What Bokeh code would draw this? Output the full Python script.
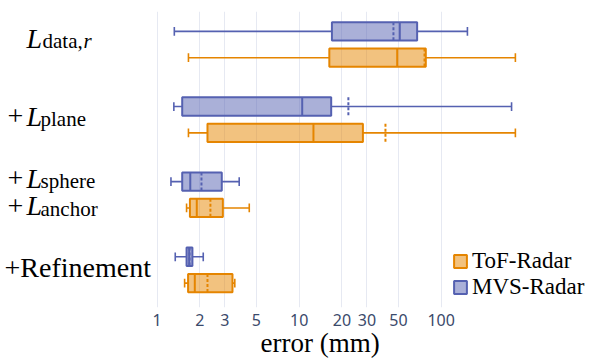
from bokeh.plotting import figure
from bokeh.models import (Range1d, FixedTicker, PrintfTickFormatter, Label,
                          Legend, LegendItem, ColumnDataSource, Title)
from bokeh.embed import file_html
from bokeh.resources import INLINE

# ---------------- data ----------------
series_names = ["ToF-Radar", "MVS-Radar"]
group_index = [0, 1, 2, 3]          # L_data,r ; +L_plane ; +L_sphere/+L_anchor ; +Refinement

mvs_low = [1.32, 1.31, 1.25, 1.34]
mvs_q1 = [17.0, 1.50, 1.50, 1.61]
mvs_med = [51.1, 10.5, 1.71, 1.68]
mvs_q3 = [67.7, 16.8, 2.85, 1.77]
mvs_high = [153.0, 313.0, 3.78, 2.11]
mvs_mean = [46.1, 22.2, 2.05, 1.69]

tof_low = [1.66, 1.66, 1.61, 1.56]
tof_q1 = [16.3, 2.26, 1.70, 1.65]
tof_med = [49.0, 12.6, 1.90, 1.84]
tof_q3 = [77.9, 28.1, 2.90, 3.39]
tof_high = [333.0, 333.0, 4.45, 3.52]
tof_mean = [76.3, 40.5, 2.37, 2.26]

x_ticks = [1, 2, 3, 5, 10, 20, 30, 50, 100]
x_label = "error (mm)"

# y tick labels: (position, prefix, main, subscript, italic subscript tail, baseline px, sub x)
ylabels = [
    (0.0, "", "L", "data,", "r", -6.5, 42),
    (1.0, "+", "L", "plane", "", -3.2, 40),
    (1.825, "+", "L", "sphere", "", -3.3, 40),
    (2.175, "+", "L", "anchor", "", -2.0, 40),
    (3.0, "+Refinement", "", "", "", -2.3, 0),
]

# ---------------- styling ----------------
MVS_C = "#5561b1"
TOF_C = "#e58500"
ROW_OFF = 0.175
BOX_H = 0.244
CAP_H = 0.058
SERIF = "Liberation Serif"


def make_source(low, q1, med, q3, high, mean, off):
    ys = [g + off for g in group_index]
    return ColumnDataSource(dict(
        y=ys, low=low, q1=q1, med=med, q3=q3, high=high, mean=mean,
        cap0=[y - CAP_H for y in ys], cap1=[y + CAP_H for y in ys],
        box0=[y - BOX_H / 2 for y in ys], box1=[y + BOX_H / 2 for y in ys],
    ))


p = figure(width=597, height=360, x_axis_type="log",
           x_range=Range1d(0.0788, 1261), y_range=Range1d(3.5, -0.44),
           output_backend="svg", toolbar_location=None, y_axis_location=None,
           min_border_left=0, min_border_right=0, min_border_top=11,
           min_border_bottom=53)
p.outline_line_color = None
p.background_fill_color = "white"
p.border_fill_color = "white"
p.ygrid.visible = False
p.xgrid.ticker = FixedTicker(ticks=x_ticks)
p.xgrid.grid_line_color = "#e6e9f2"
p.xgrid.grid_line_width = 1

ax = p.xaxis[0]
ax.ticker = FixedTicker(ticks=x_ticks, minor_ticks=[])
ax.formatter = PrintfTickFormatter(format="%d")
ax.axis_line_color = None
ax.major_tick_line_color = None
ax.minor_tick_line_color = None
ax.major_tick_out = 0
ax.major_tick_in = 0
ax.major_label_text_font = "Noto Sans"
ax.major_label_text_font_size = "16px"
ax.major_label_text_color = "#3b4a6b"
ax.major_label_standoff = 6

renderers = {}
for name, col, vals, off in [
        ("MVS-Radar", MVS_C, (mvs_low, mvs_q1, mvs_med, mvs_q3, mvs_high, mvs_mean), -ROW_OFF),
        ("ToF-Radar", TOF_C, (tof_low, tof_q1, tof_med, tof_q3, tof_high, tof_mean), ROW_OFF)]:
    src = make_source(*vals, off)
    p.segment(x0="low", y0="y", x1="q1", y1="y", source=src, line_color=col, line_width=1.6)
    p.segment(x0="q3", y0="y", x1="high", y1="y", source=src, line_color=col, line_width=1.6)
    p.segment(x0="low", y0="cap0", x1="low", y1="cap1", source=src, line_color=col, line_width=1.6)
    p.segment(x0="high", y0="cap0", x1="high", y1="cap1", source=src, line_color=col, line_width=1.6)
    box = p.hbar(y="y", left="q1", right="q3", height=BOX_H, source=src,
                 fill_color=col, fill_alpha=0.5, line_color=col, line_width=2)
    p.segment(x0="med", y0="box0", x1="med", y1="box1", source=src, line_color=col, line_width=2)
    p.segment(x0="mean", y0="box0", x1="mean", y1="box1", source=src, line_color=col,
              line_width=2, line_dash="3 2")
    renderers[name] = box

legend = Legend(items=[LegendItem(label=n, renderers=[renderers[n]]) for n in series_names],
                location=(452, 7), orientation="vertical",
                glyph_width=16, glyph_height=16, label_standoff=4, spacing=-3,
                padding=0, margin=0, border_line_color=None, background_fill_alpha=0,
                label_text_font=SERIF, label_text_font_size="23px", label_text_color="black")
p.add_layout(legend)

# y category labels (math-like composite text), placed in the left part of the frame
for ypos, prefix, main, sub, sub_it, base, subx in ylabels:
    if main == "":
        p.add_layout(Label(x=4, y=ypos, x_units="screen", y_units="data", text=prefix,
                           y_offset=-base, text_font=SERIF, text_font_size="28px",
                           text_baseline="alphabetic", text_align="left", text_color="black"))
        continue
    if prefix:
        p.add_layout(Label(x=7, y=ypos, x_units="screen", text=prefix, y_offset=-base,
                           text_font=SERIF, text_font_size="28px", text_baseline="alphabetic",
                           text_color="black"))
    p.add_layout(Label(x=26, y=ypos, x_units="screen", text=main, y_offset=-base,
                       text_font=SERIF, text_font_style="italic", text_font_size="28px",
                       text_baseline="alphabetic", text_color="black"))
    p.add_layout(Label(x=subx, y=ypos, x_units="screen", text=sub, y_offset=-base - 3,
                       text_font=SERIF, text_font_size="21px", text_baseline="alphabetic",
                       text_color="black"))
    if sub_it:
        p.add_layout(Label(x=subx + 41, y=ypos, x_units="screen", text=sub_it,
                           y_offset=-base - 3, text_font=SERIF, text_font_style="italic",
                           text_font_size="21px", text_baseline="alphabetic",
                           text_color="black"))

# axis title (placed below the axis, shifted like the reference)
p.add_layout(Title(text=x_label, align="left", offset=260, standoff=-6,
                   vertical_align="bottom", text_font=SERIF, text_font_size="27px",
                   text_font_style="normal", text_color="black"), "below")

open("out.html", "w").write(file_html(p, INLINE))
